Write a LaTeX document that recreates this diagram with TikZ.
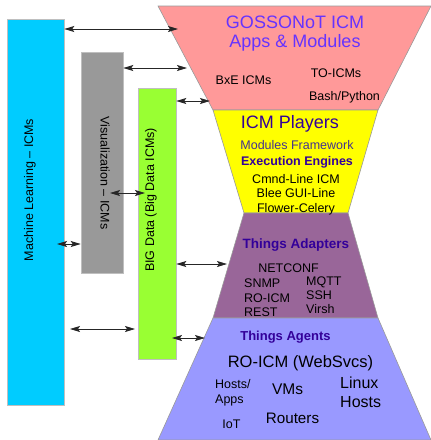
\documentclass[tikz,border=0pt]{standalone}
\usepackage{fontspec}
\setmainfont{Liberation Sans}
\usetikzlibrary{arrows.meta}
\definecolor{appspink}{HTML}{FF9999}
\definecolor{playeryellow}{HTML}{FFFF00}
\definecolor{adaptpurple}{HTML}{996699}
\definecolor{agentblue}{HTML}{9999FF}
\definecolor{mlcyan}{HTML}{00CCFF}
\definecolor{visgray}{HTML}{999999}
\definecolor{biggreen}{HTML}{99FF33}
\definecolor{headviolet}{HTML}{6633FF}
\definecolor{headdark}{HTML}{330099}
\definecolor{headmid}{HTML}{44338F}
\begin{document}
\begin{tikzpicture}[x=1pt,y=-1pt,
   layer/.style={draw=black!40,line width=0.6pt},
   sidebox/.style={draw=black!25,line width=0.6pt,inner sep=0pt},
   link/.style={{Stealth[length=10pt,width=6pt,inset=2pt]}-{Stealth[length=10pt,width=6pt,inset=2pt]},line width=0.8pt,draw=black!85},
   big/.style={font=\fontsize{18}{20}\selectfont},
   mid/.style={font=\fontsize{16}{18}\selectfont},
   sml/.style={font=\fontsize{12.5}{14}\selectfont},
   ]
   \useasboundingbox (0,0) rectangle (431,440);
   % hourglass
   \fill[appspink,layer] (158,6) -- (431,6) -- (378,110) -- (213,110) -- cycle;
   \fill[playeryellow,layer] (213,110) -- (378,110) -- (348,213) -- (244,213) -- cycle;
   \fill[adaptpurple,layer] (244,213) -- (348,213) -- (378,318) -- (213,318) -- cycle;
   \fill[agentblue,layer] (213,318) -- (378,318) -- (431,440) -- (158,440) -- cycle;
   % side boxes
   \node[sidebox,fill=mlcyan,minimum width=57pt,minimum height=386pt] (ml) at (35.5,212) {};
   \node[sidebox,fill=visgray,minimum width=42pt,minimum height=221pt] (vis) at (102,162.5) {};
   \node[sidebox,fill=biggreen,minimum width=38pt,minimum height=271pt] (bigd) at (157,223.5) {};
   \node[sml,rotate=90] (mltext) at (30,190) {Machine Learning -- ICMs};
   \node[sml,rotate=-90] (vistext) at (105,173) {Visualization -- ICMs};
   \node[sml,rotate=90] (bigtext) at (151,200) {BIG Data (Big Data ICMs)};
   % apps
   \node[big,text=headviolet,anchor=base] (gosso) at (295,28) {GOSSONoT ICM};
   \node[big,text=headviolet,anchor=base] (appsmod) at (295,47) {Apps \& Modules};
   \node[sml,anchor=base] (bxe) at (243.5,84) {BxE ICMs};
   \node[sml,anchor=base] (toicm) at (336,77) {TO-ICMs};
   \node[sml,anchor=base] (bash) at (344.5,100) {Bash/Python};
   % players
   \node[big,text=headdark,anchor=base] (players) at (290,128) {ICM Players};
   \node[sml,text=headmid,anchor=base] (modfw) at (297,149) {Modules Framework};
   \node[sml,text=headdark,anchor=base,font=\fontsize{12.5}{14}\selectfont\bfseries] (exeng) at (297,165) {Execution Engines};
   \node[sml,anchor=base] (cmnd) at (296,183) {Cmnd-Line ICM};
   \node[sml,anchor=base] (blee) at (296,197) {Blee GUI-Line};
   \node[sml,anchor=base] (flower) at (296,212) {Flower-Celery};
   % adapters
   \node[text=headdark,anchor=base,font=\fontsize{13.5}{15}\selectfont\bfseries] (adapters) at (296,248) {Things Adapters};
   \node[sml,anchor=base] (netconf) at (288.5,272) {NETCONF};
   \node[sml,anchor=base west,inner sep=0pt] (snmp) at (244,287) {SNMP};
   \node[sml,anchor=base west,inner sep=0pt] (roicm) at (244,302) {RO-ICM};
   \node[sml,anchor=base west,inner sep=0pt] (rest) at (244,316) {REST};
   \node[sml,anchor=base west,inner sep=0pt] (mqtt) at (306,285) {MQTT};
   \node[sml,anchor=base west,inner sep=0pt] (ssh) at (306,299) {SSH};
   \node[sml,anchor=base west,inner sep=0pt] (virsh) at (306,313) {Virsh};
   % agents
   \node[text=headdark,anchor=base,font=\fontsize{13}{15}\selectfont\bfseries] (agents) at (285.5,340) {Things Agents};
   \node[anchor=base,font=\fontsize{16.5}{18}\selectfont] (websvc) at (300.5,367) {RO-ICM (WebSvcs)};
   \node[sml,anchor=base west,inner sep=0pt] (hosts) at (215,388) {Hosts/};
   \node[sml,anchor=base west,inner sep=0pt] (apps) at (215,403) {Apps};
   \node[anchor=base,font=\fontsize{15.5}{17}\selectfont] (vms) at (287.5,394) {VMs};
   \node[mid,anchor=base west,inner sep=0pt] (linux) at (340,388) {Linux};
   \node[mid,anchor=base west,inner sep=0pt] (lhosts) at (340,407) {Hosts};
   \node[sml,anchor=base] (iot) at (231.5,428) {IoT};
   \node[anchor=base,font=\fontsize{15.2}{17}\selectfont] (routers) at (292.5,423) {Routers};
   % connectors
   \coordinate (mlapps) at (178,29);
   \coordinate (visapps) at (187,68);
   \coordinate (bigapps) at (210,101);
   \coordinate (visbigA) at (110,193);
   \coordinate (visbigB) at (145,193);
   \coordinate (mlvisA) at (57,244);
   \coordinate (bigadapt) at (227,264);
   \coordinate (mlbigA) at (70,329);
   \coordinate (mlbigB) at (135,329);
   \coordinate (bigagentA) at (172,338);
   \coordinate (bigagentB) at (205,338);
   \draw[link] (ml.east |- mlapps) -- (mlapps);
   \draw[link] (vis.east |- visapps) -- (visapps);
   \draw[link] (bigd.east |- bigapps) -- (bigapps);
   \draw[link] (visbigA) -- (visbigB);
   \draw[link] (mlvisA) -- (vis.west |- mlvisA);
   \draw[link] (bigd.east |- bigadapt) -- (bigadapt);
   \draw[link] (mlbigA) -- (mlbigB);
   \draw[link] (bigagentA) -- (bigagentB);
\end{tikzpicture}
\end{document}
